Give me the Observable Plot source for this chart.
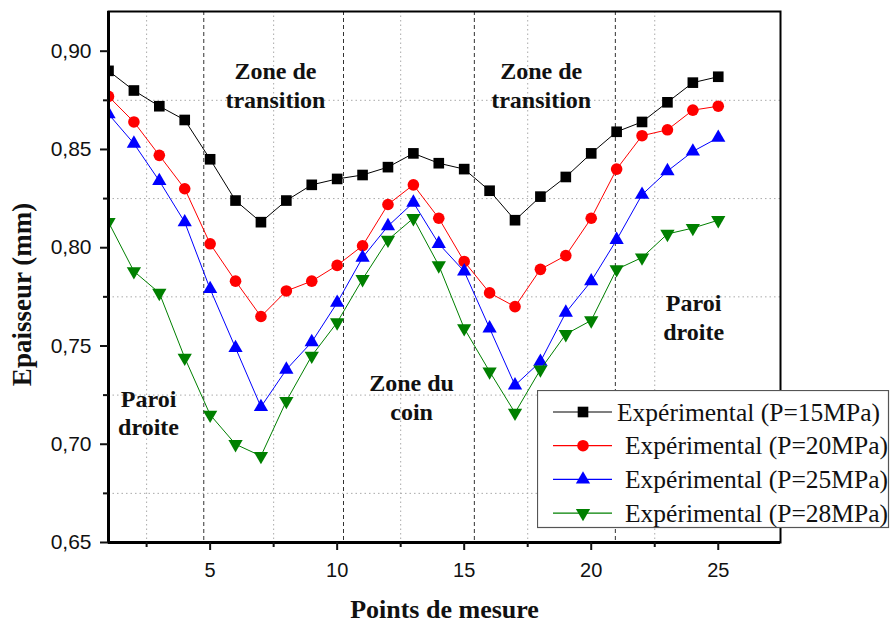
<!DOCTYPE html>
<html><head><meta charset="utf-8">
<script src="https://cdn.jsdelivr.net/npm/d3@7"></script>
<script src="https://cdn.jsdelivr.net/npm/@observablehq/plot@0.6"></script>
<style>
body{margin:0;background:#fff}
#wrap{position:relative;width:890px;height:624px;background:#fff}
</style>
</head><body><div id="wrap"></div>
<script>
// ---- data ----
const points = [1,2,3,4,5,6,7,8,9,10,11,12,13,14,15,16,17,18,19,20,21,22,23,24,25];
const seriesNames = ["Expérimental (P=15MPa)","Expérimental (P=20MPa)","Expérimental (P=25MPa)","Expérimental (P=28MPa)"];
const p15 = [0.890,0.880,0.872,0.865,0.845,0.824,0.813,0.824,0.832,0.835,0.837,0.841,0.848,0.843,0.840,0.829,0.814,0.826,0.836,0.848,0.859,0.864,0.874,0.884,0.887];
const p20 = [0.877,0.864,0.847,0.830,0.802,0.783,0.765,0.778,0.783,0.791,0.801,0.822,0.832,0.815,0.793,0.777,0.770,0.789,0.796,0.815,0.840,0.857,0.860,0.870,0.872];
const p25 = [0.868,0.853,0.834,0.813,0.779,0.749,0.719,0.738,0.752,0.772,0.795,0.811,0.823,0.802,0.788,0.759,0.730,0.742,0.767,0.783,0.804,0.827,0.839,0.849,0.856];
const p28 = [0.813,0.788,0.777,0.744,0.715,0.700,0.694,0.722,0.745,0.762,0.784,0.804,0.815,0.791,0.759,0.737,0.716,0.738,0.756,0.763,0.789,0.795,0.807,0.810,0.814];
const zoneBounds = [4.75, 10.25, 15.4, 20.95];
const xMajor = [5,10,15,20,25];
const xMinor = [2.5,7.5,12.5,17.5,22.5];
const yMajor = [0.65,0.70,0.75,0.80,0.85,0.90];
const yMinor = [0.675,0.725,0.775,0.825,0.875];
const notes = [
  {text:"Zone de\ntransition", x:7.57, y:0.8713},
  {text:"Zone de\ntransition", x:18.03, y:0.8713},
  {text:"Zone du\ncoin", x:12.93, y:0.7122},
  {text:"Paroi\ndroite", x:2.575, y:0.7045},
  {text:"Paroi\ndroite", x:24.03, y:0.7529}
];

// ---- styles ----
const colors = ["#000000","#ff0000","#0000ff","#008000"];
const sqrt3 = Math.sqrt(3);
const triDown = {draw(ctx, size){ const y = -Math.sqrt(size/(sqrt3*3)); ctx.moveTo(0,-y*2); ctx.lineTo(-sqrt3*y, y); ctx.lineTo(sqrt3*y, y); ctx.closePath(); }};
const symbols = [d3.symbolSquare, d3.symbolCircle, d3.symbolTriangle, triDown];
const radii = [6, 5.8, 5.3, 5.3];
const values = [p15,p20,p25,p28];
const serif = "'Liberation Serif','Times New Roman',serif";
const sans = "'Liberation Sans',Arial,sans-serif";
const fmt = d => d.toFixed(2).replace(".", ",");
const xDomain = [1, 27.45];
const yDomain = [0.65, 0.9202];

const seriesMarks = [];
values.forEach((vals, i) => {
  const rows = points.map((p, j) => ({x: p, y: vals[j]}));
  seriesMarks.push(Plot.line(rows, {x:"x", y:"y", stroke: colors[i], strokeWidth: 1, clip: true}));
  seriesMarks.push(Plot.dot(rows, {x:"x", y:"y", symbol: symbols[i], r: radii[i], fill: colors[i], stroke: "none", clip: true}));
});

const chart = Plot.plot({
  width: 890, height: 624,
  marginLeft: 108, marginRight: 110, marginTop: 11, marginBottom: 82,
  x: {domain: xDomain},
  y: {domain: yDomain},
  style: {fontFamily: sans, background: "white", overflow: "visible"},
  marks: [
    Plot.gridX(xMinor, {stroke: "#aaa", strokeOpacity: 1, strokeDasharray: "1.5,3"}),
    Plot.gridY(yMinor, {stroke: "#aaa", strokeOpacity: 1, strokeDasharray: "1.5,3"}),
    Plot.ruleX(zoneBounds, {stroke: "#333", strokeDasharray: "4,3", strokeWidth: 1}),
    Plot.text(notes, {x:"x", y:"y", text:"text", lineAnchor:"bottom", lineHeight:1.2, fontSize:24, fontWeight:"bold", fontFamily: serif, fill:"#111"}),
    ...seriesMarks,
    Plot.frame({stroke: "black", strokeWidth: 2}),
    Plot.ruleX([xDomain[0]], {stroke: "black", strokeWidth: 3}),
    Plot.ruleY([yDomain[0]], {stroke: "black", strokeWidth: 3}),
    Plot.axisY({ticks: yMajor, tickSize: 8, tickPadding: 9, tickFormat: fmt, fontSize: 21, label: null, strokeWidth: 2, color: "#111"}),
    Plot.axisY({ticks: yMinor, tickSize: 5, tickFormat: () => "", label: null, strokeWidth: 2, color: "#111"}),
    Plot.axisX({ticks: xMajor, tickSize: 8, tickPadding: 12, tickFormat: d => String(d), fontSize: 20, label: null, strokeWidth: 2, color: "#111"}),
    Plot.axisX({ticks: xMinor, tickSize: 5, tickFormat: () => "", label: null, strokeWidth: 2, color: "#111"}),
    Plot.text(["Epaisseur (mm)"], {frameAnchor:"left", rotate:-90, dx:-86, dy:17.5, textAnchor:"middle", lineAnchor:"middle", fontSize:27, fontWeight:"bold", fontFamily: serif, fill:"#111"}),
    Plot.text(["Points de mesure"], {frameAnchor:"bottom", dy:75, lineAnchor:"bottom", fontSize:26, fontWeight:"bold", fontFamily: serif, fill:"#111"})
  ]
});
const wrap = document.getElementById("wrap");
wrap.appendChild(chart);

// ---- legend (inside the plot area, bottom right) ----
const legW = 353, legH = 139;
const leg = d3.select(wrap).append("svg")
  .style("position","absolute").style("left","537px").style("top","390px")
  .attr("width", legW).attr("height", legH);
leg.append("rect").attr("x",0.5).attr("y",0.5).attr("width",legW-2).attr("height",legH-2)
  .attr("fill","white").attr("stroke","#555").attr("stroke-width",1.2);
seriesNames.forEach((name, i) => {
  const cy = 22 + i*33.7;
  const g = leg.append("g");
  g.append("line").attr("x1",16).attr("x2",75).attr("y1",cy).attr("y2",cy).attr("stroke",colors[i]).attr("stroke-width",1.2);
  g.append("path").attr("transform",`translate(46,${cy})`)
    .attr("d", d3.symbol(symbols[i], radii[i]*radii[i]*Math.PI)()).attr("fill", colors[i]);
  g.append("text").attr("x", i === 0 ? 80 : 88).attr("y", cy + 8.5)
    .attr("font-family", serif).attr("font-size", 25.5).attr("fill","#111").text(name);
});
</script>
</body></html>
